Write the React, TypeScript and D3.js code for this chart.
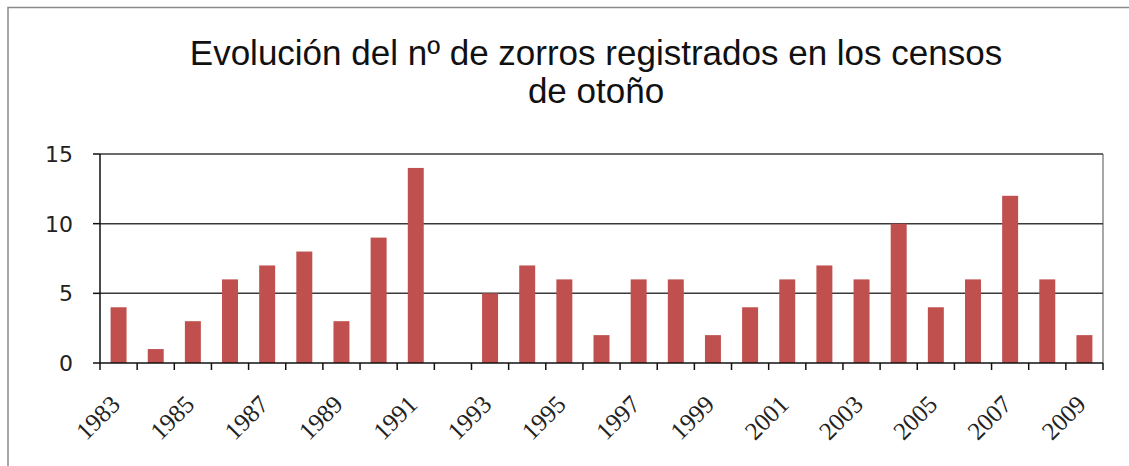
import React from "react";
import * as d3 from "d3";

const years: string[] = [
  "1983","1984","1985","1986","1987","1988","1989","1990","1991","1992",
  "1993","1994","1995","1996","1997","1998","1999","2000","2001","2002",
  "2003","2004","2005","2006","2007","2008","2009",
];
const zorros: number[] = [4,1,3,6,7,8,3,9,14,0,5,7,6,2,6,6,2,4,6,7,6,10,4,6,12,6,2];
const yTicks: number[] = [0,5,10,15];
const titleLines: string[] = ["Evolución del nº de zorros registrados en los censos", "de otoño"];

const W = 1129, H = 466;
const left = 100, right = 1103, top = 154, bottom = 363;

export default function App() {
  const x = d3.scaleBand<string>().domain(years).range([left, right]).paddingInner(0.57).paddingOuter(0.285);
  const xb = d3.scaleBand<string>().domain(years).range([left, right]).padding(0);
  const y = d3.scaleLinear().domain([0, 15]).range([bottom, top]);
  const step = xb.step();
  const boundaries = d3.range(years.length + 1).map((i) => left + i * step);
  return (
    <svg width={W} height={H} style={{ position: "absolute", left: 0, top: 0, background: "#fff" }}>
      <rect x={8} y={7.5} width={W + 20} height={H + 20} fill="#fff" stroke="#8a8a8a" strokeWidth={1.5} />
      <g fontFamily="'Liberation Sans', Arial, sans-serif" fontSize={35} fill="#111" textAnchor="middle">
        {titleLines.map((t, i) => (
          <text key={i} x={596} y={65 + i * 38}>{t}</text>
        ))}
      </g>
      {/* plot border right */}
      <line x1={right} x2={right} y1={top} y2={bottom} stroke="#8a8a8a" strokeWidth={1.5} />
      {/* gridlines */}
      {yTicks.filter((t) => t > 0).map((t) => (
        <line key={t} x1={left} x2={right} y1={y(t)} y2={y(t)} stroke="#3a3a3a" strokeWidth={1.5} />
      ))}
      {/* bars */}
      {years.map((yr, i) => (
        <rect key={yr} x={x(yr)} y={y(zorros[i])} width={x.bandwidth()} height={bottom - y(zorros[i])} fill="#C0504D" />
      ))}
      {/* axes */}
      <line x1={left} x2={left} y1={top} y2={bottom} stroke="#111" strokeWidth={1.5} />
      <line x1={left} x2={right} y1={bottom} y2={bottom} stroke="#111" strokeWidth={1.5} />
      {yTicks.map((t) => (
        <line key={"yt" + t} x1={left - 7} x2={left} y1={y(t)} y2={y(t)} stroke="#111" strokeWidth={1.5} />
      ))}
      {boundaries.map((bx, i) => (
        <line key={"xt" + i} x1={bx} x2={bx} y1={bottom} y2={bottom + 7} stroke="#111" strokeWidth={1.5} />
      ))}
      <g fontFamily="'DejaVu Sans', Verdana, sans-serif" fontSize={22} fill="#222" textAnchor="end">
        {yTicks.map((t) => (
          <text key={"yl" + t} x={73} y={y(t)} dy="0.36em">{t}</text>
        ))}
      </g>
      <g fontFamily="'Liberation Serif', 'Times New Roman', serif" fontSize={25} fill="#222" textAnchor="end">
        {years.map((yr, i) =>
          i % 2 === 0 ? (
            <text key={"xl" + yr} transform={`translate(${(x(yr) as number) + x.bandwidth() / 2 + 3},${406}) rotate(-45)`}>{yr}</text>
          ) : null
        )}
      </g>
    </svg>
  );
}
